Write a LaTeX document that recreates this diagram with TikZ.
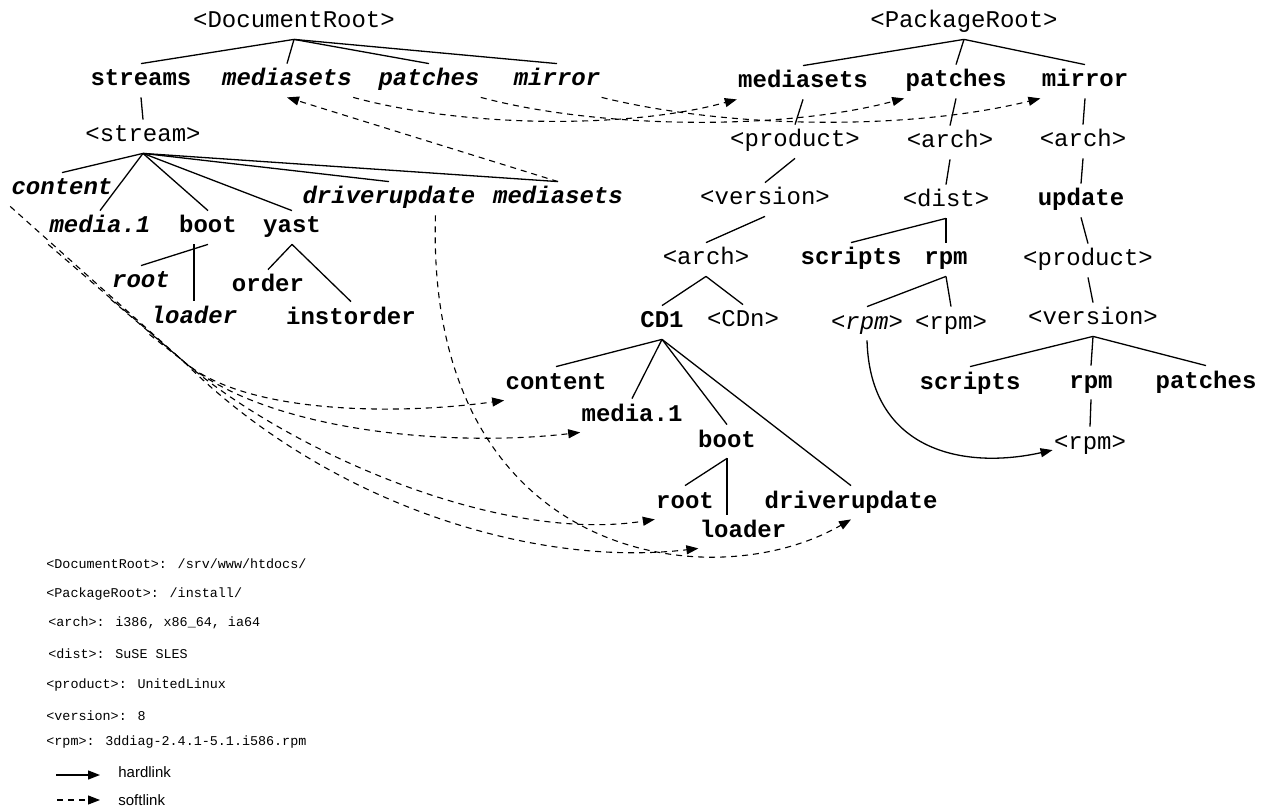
\documentclass[tikz,border=0pt]{standalone}
\usepackage{fontspec}
\newfontfamily\cour{Liberation Mono}
\newfontfamily\arial{Liberation Sans}
\usetikzlibrary{arrows.meta,positioning,calc}

\begin{document}
\begin{tikzpicture}
[x=0.5pt,y=-0.5pt,
plain/.style={font=\cour\fontsize{12}{14}\selectfont,text height=8pt,text depth=2.5pt,inner xsep=0.5pt,inner ysep=3pt,anchor=base},
dirbox/.style={plain,font=\cour\fontsize{12}{14}\selectfont\bfseries},
linkbox/.style={plain,font=\cour\fontsize{12}{14}\selectfont\bfseries\itshape},
note/.style={font=\cour\fontsize{6.7}{8}\selectfont,inner sep=0pt,anchor=base west},
keytext/.style={font=\arial\fontsize{7.5}{9}\selectfont,inner sep=0pt,anchor=base west},
branch/.style={line width=0.65pt},
hardarr/.style={line width=0.65pt,-{Triangle[length=6pt,width=4.5pt]}},
softarr/.style={line width=0.55pt,dash pattern=on 3pt off 2.5pt,-{Triangle[length=6pt,width=4.5pt]}}]
\useasboundingbox (0,0) rectangle (1267,807);
%%%%%%%%%%

%% DocumentRoot tree
\node[plain] (dr) at (294,28) {<DocumentRoot>};
\node[dirbox] (streams) at (141,86) {streams};
\node[linkbox] (dms) at (287,86) {mediasets};
\node[linkbox] (dpa) at (429,86) {patches};
\node[linkbox] (dmi) at (557,86) {mirror};
\node[plain] (stream) at (143,142) {<stream>};
\node[linkbox] (scontent) at (62,195) {content};
\node[linkbox] (smedia) at (100,233) {media.1};
\node[dirbox] (sboot) at (208,233) {boot};
\node[dirbox] (syast) at (292,233) {yast};
\node[linkbox] (sdriver) at (389,204) {driverupdate};
\node[linkbox] (sms) at (558,204) {mediasets};
\node[linkbox] (sroot) at (141,288) {root};
\node[linkbox] (sloader) at (194,323) {loader};
\node[dirbox] (sorder) at (268,292) {order};
\node[dirbox] (sinst) at (351,324) {instorder};

%% PackageRoot tree
\node[plain] (pr) at (964,28) {<PackageRoot>};
\node[dirbox] (pms) at (803,88) {mediasets};
\node[dirbox] (ppa) at (956,87) {patches};
\node[dirbox] (pmi) at (1085,87) {mirror};
\node[plain] (product) at (795,147) {<product>};
\node[plain] (parch) at (950,148) {<arch>};
\node[plain] (march) at (1083,147) {<arch>};
\node[plain] (version) at (765,205) {<version>};
\node[plain] (dist) at (946,207) {<dist>};
\node[dirbox] (update) at (1081,206) {update};
\node[plain] (arch) at (706,265) {<arch>};
\node[dirbox] (dscripts) at (851,265) {scripts};
\node[dirbox] (drpm) at (946,265) {rpm};
\node[plain] (uproduct) at (1088,266) {<product>};
\node[dirbox] (cd1) at (662,328) {CD1};
\node[plain] (cdn) at (743,327) {<CDn>};
\node[plain] (irpm) at (867,329) {<\textit{rpm}>};
\node[plain] (rrpm) at (951,329) {<rpm>};
\node[plain] (uversion) at (1093,325) {<version>};
\node[dirbox] (uscripts) at (970,389) {scripts};
\node[dirbox] (urpm) at (1091,388) {rpm};
\node[dirbox] (upatches) at (1206,388) {patches};
\node[plain] (urpmfile) at (1090,449) {<rpm>};

%% CD1
\node[dirbox] (ccontent) at (556,389) {content};
\node[dirbox] (cmedia) at (632,421) {media.1};
\node[dirbox] (cboot) at (727,447) {boot};
\node[dirbox] (croot) at (685,508) {root};
\node[dirbox] (cdriver) at (851,508) {driverupdate};
\node[dirbox] (cloader) at (743,537) {loader};

%% tree lines
\foreach \a/\b in {dr/streams,dr/dms,dr/dpa,dr/dmi,streams/stream,
  stream/scontent,stream/smedia,stream/sboot,stream/syast,stream/sdriver,stream/sms,
  sboot/sroot,syast/sorder,syast/sinst,
  pr/pms,pr/ppa,pr/pmi,pms/product,ppa/parch,pmi/march,product/version,
  parch/dist,march/update,version/arch,dist/dscripts,dist/drpm,update/uproduct,
  arch/cd1,arch/cdn,drpm/irpm,drpm/rrpm,uproduct/uversion,
  uversion/uscripts,uversion/urpm,uversion/upatches,urpm/urpmfile,
  cd1/ccontent,cd1/cmedia,cd1/cboot,cd1/cdriver,cboot/croot}
  \draw[branch] (\a.south) -- (\b.north);
\draw[branch] (sboot.south -| sloader.north) -- (sloader.north);
\draw[branch] (cboot.south) -- (cboot.south |- cloader.north);

%% softlinks
\draw[softarr] (dms.south east) .. controls +(110,30) and +(-110,30) .. (pms.south west);
\draw[softarr] (dpa.south east) .. controls +(120,32) and +(-120,32) .. (ppa.south west);
\draw[softarr] (dmi.south east) .. controls +(130,32) and +(-130,32) .. (pmi.south west);
\draw[softarr] (sms.north) -- (dms.south);
\draw[softarr] (sdriver.-20) .. controls +(-10,345) and +(-140,81) .. (cdriver.south);
\coordinate (focus) at (182,360);
\draw[softarr] (scontent.south west) -- (focus) .. controls +(60,54) and +(-110,15) .. (ccontent.south west);
\draw[softarr] (smedia.south west) -- (focus) .. controls +(83,72) and +(-130,15) .. (cmedia.south west);
\draw[softarr] (sroot.south west) -- (focus) .. controls +(100,87) and +(-160,25) .. (croot.south west);
\draw[softarr] (sloader.south west) -- (focus) .. controls +(140,140) and +(-170,20) .. (cloader.south west);

%% hardlink
\draw[hardarr] (irpm.south) .. controls +(3,110) and +(-90,20) .. (urpmfile.190);

%% legend
\node[note] (def1) at (46,568) {<DocumentRoot>: /srv/www/htdocs/};
\node[note] (def2) at (46,597) {<PackageRoot>: /install/};
\node[note] (def3) at (48,626) {<arch>: i386, x86\_64, ia64};
\node[note] (def4) at (48,658) {<dist>: SuSE SLES};
\node[note] (def5) at (46,688) {<product>: UnitedLinux};
\node[note] (def6) at (46,720) {<version>: 8};
\node[note] (def7) at (46,745) {<rpm>: 3ddiag-2.4.1-5.1.i586.rpm};
\coordinate (h0) at (56,775);
\coordinate (h1) at (100,775);
\draw[hardarr] (h0) -- (h1);
\node[keytext] (hard) at (118,777) {hardlink};
\coordinate (s0) at (57,800);
\coordinate (s1) at (100,800);
\draw[softarr] (s0) -- (s1);
\node[keytext] (soft) at (118,805) {softlink};
\end{tikzpicture}
\end{document}
